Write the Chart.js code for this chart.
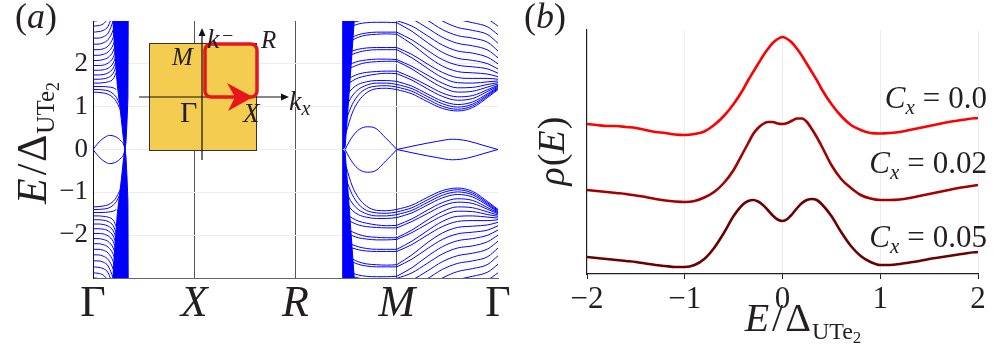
<!DOCTYPE html>
<html>
<head>
<meta charset="utf-8">
<script src="https://cdn.jsdelivr.net/npm/chart.js@4.4.1/dist/chart.umd.min.js"></script>
<style>
  html, body { margin: 0; padding: 0; background: #fff; }
  #wrap { position: relative; width: 996px; height: 349px; overflow: hidden; }
  canvas { position: absolute; top: 0; }
  #bands { left: 0; }
  #dos { left: 520px; }
</style>
</head>
<body>
<div id="wrap">
  <canvas id="bands" width="520" height="349"></canvas>
  <canvas id="dos" width="476" height="349"></canvas>
</div>
<script>
var SERIF = '"Liberation Serif", "DejaVu Serif", serif';
var INK = '#231f20';
var BLUE = '#0000ff';

// ---------- panel (a): band structure along Γ-X-R-M-Γ ----------
var kPathLabels = ['Γ', 'X', 'R', 'M', 'Γ'];
var eTicksA = [-2, -1, 0, 1, 2];

// Γ-X: bands leaving Γ (E > 0, mirrored for E < 0)
var kGX = [0, 0.05, 0.1, 0.15, 0.2, 0.23, 0.26, 0.28, 0.3, 0.318];
var bandsGX = [
  [1.34, 1.335, 1.32, 1.29, 1.21, 1.12, 0.98, 0.86, 0.60, 0.0],
  [1.40, 1.40, 1.39, 1.37, 1.30, 1.22, 1.08],
  [1.47, 1.47, 1.47, 1.46, 1.44, 1.40],
  [1.55, 1.55, 1.56, 1.58, 1.65, 1.80],
  [1.64, 1.64, 1.65, 1.68, 1.78, 1.95],
  [1.74, 1.74, 1.75, 1.79, 1.90, 2.08],
  [1.85, 1.85, 1.86, 1.90, 2.02, 2.22],
  [1.96, 1.96, 1.97, 2.02, 2.15, 2.36],
  [2.08, 2.08, 2.10, 2.15, 2.30, 2.52],
  [2.20, 2.20, 2.22, 2.28, 2.45, 2.70],
  [2.33, 2.33, 2.35, 2.42, 2.62, 2.90],
  [2.46, 2.46, 2.49, 2.57, 2.80, 3.10],
  [2.60, 2.60, 2.63, 2.72, 3.00],
  [2.74, 2.75, 2.78, 2.88, 3.20],
  [2.88, 2.89, 2.93, 3.05],
  [3.00, 3.01, 3.05]
];
var lensGXk = [0, 0.04, 0.08, 0.12, 0.165, 0.21, 0.25, 0.28, 0.3, 0.318];
var lensGXe = [0, 0.12, 0.22, 0.29, 0.33, 0.31, 0.26, 0.19, 0.13, 0];
var wallGXk = [0.197, 0.215, 0.24, 0.265, 0.28, 0.30, 0.315, 0.325, 0.335, 0.345, 0.348];
var wallGXe = [3.0, 2.3, 1.5, 1.0, 0.7, 0.25, 0.0, 0.15, 0.6, 1.2, 3.0];

// R-M
var kRM = [2.5, 2.56, 2.62, 2.7, 2.8, 2.9, 3.0];
var bandsRM = [
  [0.40, 0.85, 1.12, 1.32, 1.42, 1.43, 1.40],
  [0.70, 1.05, 1.27, 1.42, 1.48, 1.49, 1.46],
  [1.00, 1.25, 1.40, 1.50, 1.55, 1.55, 1.52],
  [1.25, 1.42, 1.52, 1.58, 1.61, 1.61, 1.59],
  [1.50, 1.60, 1.67, 1.72, 1.76, 1.78, 1.77],
  [1.62, 1.70, 1.76, 1.80, 1.82, 1.83, 1.83],
  [1.85, 1.92, 1.98, 2.03, 2.05, 2.06, 2.06],
  [1.95, 2.01, 2.06, 2.09, 2.11, 2.11, 2.10],
  [2.15, 2.22, 2.27, 2.31, 2.33, 2.33, 2.33],
  [2.25, 2.30, 2.34, 2.37, 2.38, 2.38, 2.38],
  [2.45, 2.55, 2.62, 2.67, 2.69, 2.70, 2.69],
  [2.55, 2.62, 2.68, 2.72, 2.74, 2.74, 2.74],
  [2.80, 2.88, 2.93, 2.96, 2.97, 2.97, 2.96],
  [2.90, 2.96, 3.00, 3.02, 3.02, 3.02, 3.01]
];
var lensRMk = [2.49, 2.53, 2.565, 2.63, 2.71, 2.795, 2.89, 2.95, 3.0];
var lensRMe = [0, 0.18, 0.31, 0.47, 0.53, 0.49, 0.27, 0.13, 0];
var wallRMk = [2.46, 2.49, 2.52, 2.55, 2.58];
var wallRMe = [0.0, 0.05, 1.0, 2.0, 3.0];

// M-Γ
var kMG = [3.0, 3.15, 3.3, 3.45, 3.6, 3.75, 3.9, 4.0];
var bandsMG = [
  [1.40, 1.30, 1.12, 0.96, 0.90, 0.98, 1.22, 1.40],
  [1.46, 1.36, 1.18, 1.01, 0.94, 1.02, 1.25, 1.42],
  [1.52, 1.42, 1.24, 1.07, 0.99, 1.06, 1.28, 1.44],
  [1.59, 1.48, 1.30, 1.13, 1.05, 1.11, 1.31, 1.46],
  [1.77, 1.62, 1.42, 1.24, 1.15, 1.19, 1.36, 1.48],
  [1.83, 1.68, 1.50, 1.32, 1.23, 1.26, 1.40, 1.50],
  [2.06, 1.88, 1.65, 1.45, 1.34, 1.36, 1.46, 1.53],
  [2.10, 1.94, 1.74, 1.55, 1.44, 1.45, 1.52, 1.56],
  [2.33, 2.14, 1.90, 1.68, 1.56, 1.55, 1.58, 1.60],
  [2.38, 2.22, 2.00, 1.80, 1.68, 1.66, 1.66, 1.64],
  [2.69, 2.46, 2.18, 1.95, 1.82, 1.79, 1.76, 1.70],
  [2.74, 2.56, 2.32, 2.10, 1.97, 1.93, 1.88, 1.78],
  [2.96, 2.76, 2.50, 2.27, 2.13, 2.08, 2.00, 1.88],
  [3.01, 2.88, 2.66, 2.44, 2.30, 2.25, 2.15, 2.00],
  [3.20, 3.05, 2.84, 2.62, 2.48, 2.42, 2.32, 2.14],
  [3.30, 3.20, 3.02, 2.80, 2.66, 2.60, 2.50, 2.30],
  [null, 3.30, 3.20, 3.00, 2.85, 2.78, 2.68, 2.48],
  [null, null, 3.30, 3.18, 3.04, 2.96, 2.86, 2.68],
  [null, null, null, 3.30, 3.22, 3.14, 3.04, 2.88],
  [null, null, null, null, 3.30, 3.30, 3.20, 3.06]
];
var lensMGk = [3.0, 3.2, 3.4, 3.55, 3.7, 3.85, 4.0];
var lensMGe = [0, 0.10, 0.19, 0.24, 0.20, 0.10, 0];

// ---------- panel (b): density of states ----------
var energy = [-2.0, -1.9, -1.8, -1.7, -1.6, -1.5, -1.4, -1.3, -1.2, -1.1,
  -1.0, -0.9, -0.8, -0.7, -0.6, -0.5, -0.4, -0.35, -0.3, -0.25,
  -0.2, -0.15, -0.1, -0.05, 0, 0.05, 0.1, 0.15, 0.2, 0.25,
  0.3, 0.35, 0.4, 0.5, 0.6, 0.7, 0.8, 0.9, 1.0, 1.1,
  1.2, 1.3, 1.4, 1.5, 1.6, 1.7, 1.8, 1.9, 2.0];
var rhoCx000 = [1.50, 1.49, 1.48, 1.48, 1.47, 1.46, 1.44, 1.42, 1.41, 1.395,
  1.39, 1.40, 1.425, 1.49, 1.58, 1.70, 1.85, 1.94, 2.02, 2.10,
  2.18, 2.25, 2.31, 2.35, 2.37, 2.35, 2.31, 2.25, 2.18, 2.10,
  2.02, 1.94, 1.85, 1.70, 1.58, 1.49, 1.44, 1.41, 1.405, 1.41,
  1.42, 1.44, 1.46, 1.48, 1.50, 1.52, 1.535, 1.55, 1.56];
var rhoCx002 = [0.84, 0.83, 0.82, 0.81, 0.80, 0.785, 0.77, 0.75, 0.735, 0.725,
  0.72, 0.73, 0.765, 0.82, 0.91, 1.04, 1.22, 1.31, 1.40, 1.46,
  1.50, 1.52, 1.52, 1.505, 1.50, 1.51, 1.535, 1.555, 1.555, 1.52,
  1.45, 1.37, 1.28, 1.09, 0.95, 0.86, 0.79, 0.755, 0.74, 0.74,
  0.745, 0.76, 0.78, 0.80, 0.82, 0.84, 0.86, 0.875, 0.89];
var rhoCx005 = [0.17, 0.16, 0.15, 0.14, 0.13, 0.12, 0.105, 0.09, 0.08, 0.07,
  0.07, 0.09, 0.15, 0.26, 0.41, 0.58, 0.70, 0.73, 0.74, 0.725,
  0.69, 0.64, 0.585, 0.545, 0.53, 0.55, 0.60, 0.66, 0.71, 0.74,
  0.75, 0.74, 0.70, 0.58, 0.42, 0.28, 0.18, 0.12, 0.09, 0.09,
  0.10, 0.115, 0.13, 0.15, 0.165, 0.18, 0.195, 0.21, 0.22];
var cxValues = ['0.0', '0.02', '0.05'];
var dosColors = ['#ff0000', '#a40000', '#6c0000'];
var eTicksB = [-2, -1, 0, 1, 2];

// ---------- helpers ----------
function pts(k, e, sign) {
  var out = [];
  for (var i = 0; i < k.length; i++) {
    if (e[i] === null || e[i] === undefined) continue;
    out.push({ x: k[i], y: sign * e[i] });
  }
  return out;
}
function bandLine(k, e, sign) {
  return { data: pts(k, e, sign), borderColor: BLUE, borderWidth: 1, pointRadius: 0,
    fill: false, cubicInterpolationMode: 'monotone' };
}
function minus(v) { return (v < 0 ? '\u2212' : '') + Math.abs(v); }

// parts: [text, size, italic, dy, gapAfter]
function drawRich(ctx, parts, x, y, align) {
  var w = 0;
  parts.forEach(function (p) {
    ctx.font = (p[2] ? 'italic ' : '') + p[1] + 'px ' + SERIF;
    w += ctx.measureText(p[0]).width + (p[4] || 0);
  });
  var cx = align === 'center' ? x - w / 2 : (align === 'right' ? x - w : x);
  ctx.textAlign = 'left';
  ctx.textBaseline = 'alphabetic';
  parts.forEach(function (p) {
    ctx.font = (p[2] ? 'italic ' : '') + p[1] + 'px ' + SERIF;
    ctx.fillText(p[0], cx, y + (p[3] || 0));
    cx += ctx.measureText(p[0]).width + (p[4] || 0);
  });
}
function energyLabel(s) {
  return [['E', s, true, 0, 3], ['/', s, false, 0, 2], ['\u0394', s, false, 0, 1],
    ['UTe', Math.round(s * 0.6), false, Math.round(s * 0.2), 0],
    ['2', Math.round(s * 0.43), false, Math.round(s * 0.3), 0]];
}

// ---------- panel (a) datasets ----------
var bandSets = [];
[1, -1].forEach(function (sg) {
  bandSets.push({ data: pts(wallGXk, wallGXe, sg), borderColor: BLUE, backgroundColor: BLUE,
    borderWidth: 1, pointRadius: 0, tension: 0, fill: sg > 0 ? 'end' : 'start' });
  bandSets.push({ data: pts(wallRMk, wallRMe, sg), borderColor: BLUE, backgroundColor: BLUE,
    borderWidth: 1, pointRadius: 0, tension: 0, fill: sg > 0 ? 'end' : 'start' });
  bandsGX.forEach(function (b) { bandSets.push(bandLine(kGX, b, sg)); });
  bandsRM.forEach(function (b) { bandSets.push(bandLine(kRM, b, sg)); });
  bandsMG.forEach(function (b) { bandSets.push(bandLine(kMG, b, sg)); });
  bandSets.push(bandLine(lensGXk, lensGXe, sg));
  bandSets.push(bandLine(lensRMk, lensRMe, sg));
  bandSets.push(bandLine(lensMGk, lensMGe, sg));
});

var panelA = {
  id: 'panelA',
  afterDraw: function (chart) {
    var ctx = chart.ctx;
    ctx.save();
    ctx.fillStyle = INK;
    drawRich(ctx, [['(', 36, false], ['a', 36, true], [')', 36, false]], 15, 28, 'left');

    // y title
    ctx.save();
    ctx.translate(46, 143);
    ctx.rotate(-Math.PI / 2);
    drawRich(ctx, energyLabel(42), 0, 0, 'center');
    ctx.restore();

    // inset: Brillouin zone sketch
    ctx.fillStyle = '#f4cd50';
    ctx.fillRect(149, 43, 108, 108);
    ctx.strokeStyle = '#333';
    ctx.lineWidth = 1;
    ctx.strokeRect(149.5, 43.5, 107, 107);

    ctx.strokeStyle = '#111';
    ctx.lineWidth = 1.2;
    ctx.beginPath();
    ctx.moveTo(139, 97); ctx.lineTo(284, 97);
    ctx.moveTo(202, 160); ctx.lineTo(202, 33);
    ctx.stroke();
    ctx.fillStyle = '#111';
    ctx.beginPath();
    ctx.moveTo(289, 97); ctx.lineTo(281, 93.5); ctx.lineTo(281, 100.5); ctx.closePath();
    ctx.moveTo(202, 28); ctx.lineTo(198.5, 36); ctx.lineTo(205.5, 36); ctx.closePath();
    ctx.fill();

    ctx.strokeStyle = '#e8141e';
    ctx.lineWidth = 3.5;
    ctx.beginPath();
    ctx.roundRect(205, 44, 52, 53, 6);
    ctx.stroke();
    ctx.fillStyle = '#e8141e';
    ctx.beginPath();
    ctx.moveTo(253, 97); ctx.lineTo(227, 83); ctx.lineTo(235, 97); ctx.lineTo(228, 111); ctx.closePath();
    ctx.fill();

    ctx.fillStyle = INK;
    drawRich(ctx, [['k', 28, true]], 207, 48, 'left');
    drawRich(ctx, [['\u2212', 20, false]], 222, 42, 'left');
    drawRich(ctx, [['R', 25, true]], 261, 48, 'left');
    drawRich(ctx, [['M', 25, true]], 172, 65, 'left');
    drawRich(ctx, [['Γ', 30, false]], 180, 122, 'left');
    drawRich(ctx, [['X', 27, true]], 243, 122, 'left');
    drawRich(ctx, [['k', 28, true, 0, 0], ['x', 20, true, 5]], 289, 110, 'left');
    ctx.restore();
  }
};

new Chart(document.getElementById('bands'), {
  type: 'line',
  data: { datasets: bandSets },
  options: {
    responsive: false,
    animation: false,
    devicePixelRatio: 1,
    layout: { padding: { left: 0, top: 21, right: 22, bottom: 0 } },
    plugins: { legend: { display: false }, tooltip: { enabled: false } },
    scales: {
      x: {
        type: 'linear', min: 0, max: 4,
        afterBuildTicks: function (s) { s.ticks = kPathLabels.map(function (l, i) { return { value: i }; }); },
        afterFit: function (s) { s.height = 71; s.paddingLeft = 0; s.paddingRight = 0; },
        ticks: {
          autoSkip: false, maxRotation: 0, padding: 0, color: INK,
          callback: function (v) { return kPathLabels[v]; },
          font: function (c) {
            var up = c.index === 0 || c.index === 4;
            return { family: SERIF, size: 44, style: up ? 'normal' : 'italic' };
          }
        },
        grid: {
          drawTicks: false, lineWidth: 1,
          color: function (c) { return c.index > 0 && c.index < 4 ? '#555' : 'rgba(0,0,0,0)'; }
        },
        border: { color: '#666', width: 1 }
      },
      y: {
        min: -3, max: 3,
        afterBuildTicks: function (s) { s.ticks = eTicksA.map(function (v) { return { value: v }; }); },
        afterFit: function (s) { s.width = 93; s.paddingTop = 0; s.paddingBottom = 0; },
        ticks: { padding: 5, color: INK, font: { family: SERIF, size: 27 }, callback: minus },
        grid: { drawTicks: false, color: '#ededed' },
        border: { color: '#111', width: 1 }
      }
    }
  },
  plugins: [panelA]
});

// ---------- panel (b) ----------
var dosSeries = [rhoCx000, rhoCx002, rhoCx005];
var dosSets = dosSeries.map(function (r, i) {
  return { data: pts(energy, r, 1), borderColor: dosColors[i], borderWidth: 2.6, pointRadius: 0,
    fill: false, cubicInterpolationMode: 'monotone' };
});
var cxBaselines = [108, 173, 247];

var panelB = {
  id: 'panelB',
  afterDraw: function (chart) {
    var ctx = chart.ctx;
    ctx.save();
    ctx.fillStyle = INK;
    drawRich(ctx, [['(', 36, false], ['b', 36, true], [')', 36, false]], 4, 28, 'left');

    ctx.save();
    ctx.translate(44, 151);
    ctx.rotate(-Math.PI / 2);
    drawRich(ctx, [['\u03c1', 38, true, 0, 1], ['(', 38, false], ['E', 38, true, 0, 1], [')', 38, false]], 0, 0, 'center');
    ctx.restore();

    drawRich(ctx, energyLabel(40), 283, 331, 'center');

    cxValues.forEach(function (v, i) {
      drawRich(ctx, [['C', 31, true, 0, 0], ['x', 21, true, 6, 8], ['=', 31, false, 0, 8], [v, 31, false]],
        467, cxBaselines[i], 'right');
    });
    ctx.restore();
  }
};

new Chart(document.getElementById('dos'), {
  type: 'line',
  data: { datasets: dosSets },
  options: {
    responsive: false,
    animation: false,
    devicePixelRatio: 1,
    layout: { padding: { left: 0, top: 30, right: 18, bottom: 0 } },
    plugins: { legend: { display: false }, tooltip: { enabled: false } },
    scales: {
      x: {
        type: 'linear', min: -2, max: 2,
        afterBuildTicks: function (s) { s.ticks = eTicksB.map(function (v) { return { value: v }; }); },
        afterFit: function (s) { s.height = 75; s.paddingLeft = 0; s.paddingRight = 0; },
        ticks: { padding: 2, color: INK, font: { family: SERIF, size: 31 }, callback: minus, maxRotation: 0 },
        grid: {
          tickLength: 5, tickColor: '#222',
          color: function (c) { return c.index === 0 ? 'rgba(0,0,0,0)' : '#ececec'; }
        },
        border: { color: '#222', width: 1.2 }
      },
      y: {
        min: 0, max: 2.44,
        afterFit: function (s) { s.width = 67; s.paddingTop = 0; s.paddingBottom = 0; },
        ticks: { display: false },
        grid: { display: false },
        border: { display: true, color: '#222', width: 1.2 }
      }
    }
  },
  plugins: [panelB]
});
</script>
</body>
</html>
